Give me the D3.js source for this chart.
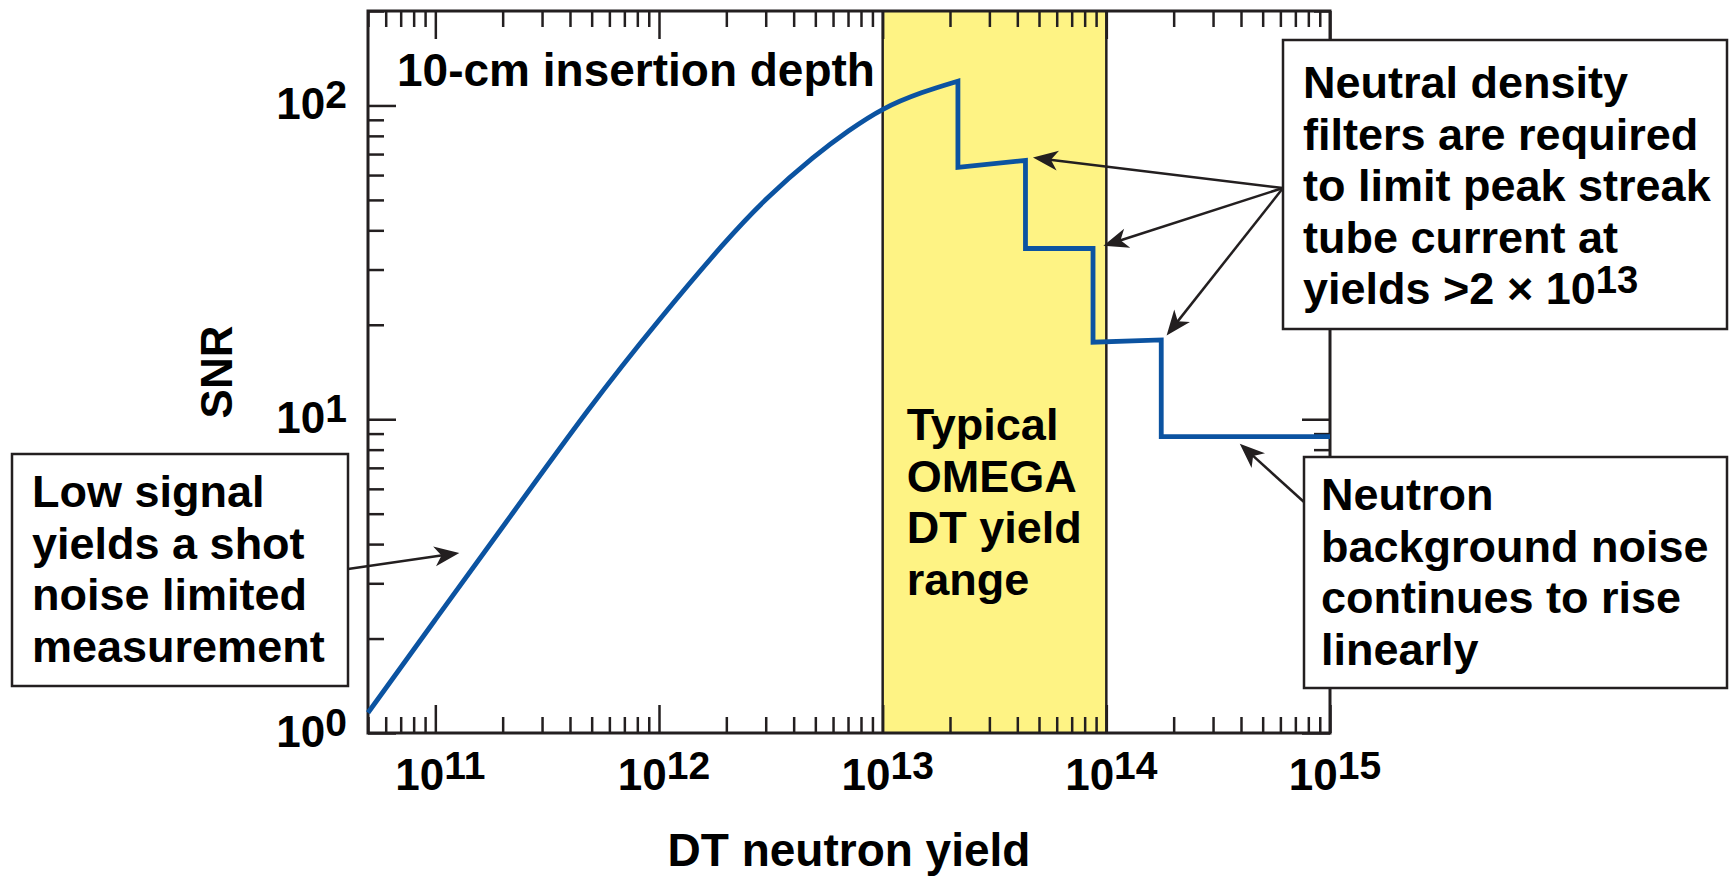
<!DOCTYPE html>
<html>
<head>
<meta charset="utf-8">
<script src="https://cdn.jsdelivr.net/npm/d3@7"></script>
<style>
    body { margin: 0; background: #fff; }
    text {
        font-family: "Liberation Sans", Arial, Helvetica, sans-serif;
        font-weight: bold;
        fill: #000;
    }
</style>
</head>
<body>
<div id="snr-chart"></div>
<script>
// smooth part of the SNR curve
const curveYield = [5e10, 1e11, 2e11, 5e11, 1e12, 2e12, 3e12, 5e12, 7e12, 1e13, 1.5e13, 2.17e13];
const curveSnr   = [1.16, 2.30, 4.53, 11.2, 20.8, 37.3, 50.6, 69.5, 83.0, 98.2, 110.4, 119.5];

// stepped part, once neutral density filters are added
const stepYield = [2.17e13, 2.17e13, 4.35e13, 4.35e13, 8.72e13, 8.72e13, 1.76e14, 1.76e14, 1e15];
const stepSnr   = [119.5, 63.5, 66.8, 35, 35, 17.6, 17.9, 8.8, 8.8];

// typical OMEGA yield range
const bandYield = [1e13, 1e14];

const xLabelValues = [1e11, 1e12, 1e13, 1e14, 1e15];
const xLabelExp    = ["11", "12", "13", "14", "15"];
const yLabelValues = [1, 10, 100];
const yLabelExp    = ["0", "1", "2"];

// annotation texts, "^" starts a superscript
const filterNote = ["Neutral density", "filters are required", "to limit peak streak", "tube current at", "yields >2 \u00d7 10^13"];
const neutronNote = ["Neutron", "background noise", "continues to rise", "linearly"];
const shotNote = ["Low signal", "yields a shot", "noise limited", "measurement"];
const bandNote = ["Typical", "OMEGA", "DT yield", "range"];

// where the arrows point to (yield, SNR)
const arrowTipYield = [4.7e13, 9.7e13, 1.86e14, 3.95e14, 1.28e11];
const arrowTipSnr   = [68.2, 35.7, 18.5, 8.35, 3.75];

const drawChart = () => {

    const width = 1730;
    const height = 877;

    const margin = {
        top: 11,
        right: 400,
        bottom: 144,
        left: 368
    };

    const innerWidth  = width - (margin.right + margin.left);
    const innerHeight = height - (margin.top + margin.bottom);

    const axisColor = "#231f20";
    const lineBlue = "#0b53a1";
    const bandYellow = "#fef384";

    const svg = d3.select("#snr-chart")
        .append("svg")
        .attr("width", width)
        .attr("height", height)
        .attr("viewBox", `0, 0, ${width}, ${height}`);

    svg.append("rect")
        .attr("width", width)
        .attr("height", height)
        .attr("fill", "#fff");

    const innerChart = svg
        .append("g")
        .attr("transform", `translate(${margin.left}, ${margin.top})`);

    const xScale = d3.scaleLog()
        .domain([5e10, 1e15])
        .range([0, innerWidth]);

    const yScale = d3.scaleLog()
        .domain([1, 200])
        .range([innerHeight, 0]);

    //yellow band
    innerChart
        .append("rect")
        .attr("x", xScale(bandYield[0]))
        .attr("y", 0)
        .attr("width", xScale(bandYield[1]) - xScale(bandYield[0]))
        .attr("height", innerHeight)
        .attr("fill", bandYellow);

    innerChart
        .selectAll(".band-edge")
        .data(bandYield)
        .join("line")
            .attr("class", "band-edge")
            .attr("x1", d => xScale(d))
            .attr("x2", d => xScale(d))
            .attr("y1", 0)
            .attr("y2", innerHeight)
            .attr("stroke", axisColor)
            .attr("stroke-width", 2.5);

    //ticks on all four sides, pointing inwards
    const xMinor = xScale.ticks().filter(d => !xLabelValues.includes(d));
    const yMinor = yScale.ticks().filter(d => !yLabelValues.includes(d));

    const addTicks = (axis, values, size, transform) => {
        innerChart
            .append("g")
            .attr("transform", transform)
            .call(axis.tickValues(values).tickSize(-size).tickFormat(""))
            .call(g => g.select(".domain").remove())
            .call(g => g.selectAll("line")
                .attr("stroke", axisColor)
                .attr("stroke-width", 2.5));
    };

    addTicks(d3.axisBottom(xScale), xLabelValues, 28, `translate(0, ${innerHeight})`);
    addTicks(d3.axisBottom(xScale), xMinor, 16, `translate(0, ${innerHeight})`);
    addTicks(d3.axisTop(xScale), xLabelValues, 28, "translate(0, 0)");
    addTicks(d3.axisTop(xScale), xMinor, 16, "translate(0, 0)");
    addTicks(d3.axisLeft(yScale), yLabelValues, 28, "translate(0, 0)");
    addTicks(d3.axisLeft(yScale), yMinor, 16, "translate(0, 0)");
    addTicks(d3.axisRight(yScale), yLabelValues, 28, `translate(${innerWidth}, 0)`);
    addTicks(d3.axisRight(yScale), yMinor, 16, `translate(${innerWidth}, 0)`);

    innerChart
        .append("rect")
        .attr("width", innerWidth)
        .attr("height", innerHeight)
        .attr("fill", "none")
        .attr("stroke", axisColor)
        .attr("stroke-width", 3);

    //tick labels as 10 with a superscript exponent
    const powerLabel = (sel, exps, supSize) => {
        sel.text("10")
            .append("tspan")
            .attr("dy", -11)
            .attr("font-size", supSize)
            .text((d, i) => exps[i]);
    };

    innerChart
        .selectAll(".x-label")
        .data(xLabelValues)
        .join("text")
            .attr("class", "x-label")
            .attr("x", d => xScale(d) + 5)
            .attr("y", innerHeight + 57)
            .attr("text-anchor", "middle")
            .attr("font-size", 44)
            .call(powerLabel, xLabelExp, 39);

    innerChart
        .selectAll(".y-label")
        .data(yLabelValues)
        .join("text")
            .attr("class", "y-label")
            .attr("x", -21)
            .attr("y", d => yScale(d) + 13.5)
            .attr("text-anchor", "end")
            .attr("font-size", 44)
            .call(powerLabel, yLabelExp, 39);

    //axis titles
    svg
        .append("text")
        .text("DT neutron yield")
        .attr("x", margin.left + innerWidth / 2)
        .attr("y", 866)
        .attr("text-anchor", "middle")
        .attr("font-size", 46);

    svg
        .append("text")
        .text("SNR")
        .attr("transform", `translate(232, ${margin.top + innerHeight / 2}) rotate(-90)`)
        .attr("text-anchor", "middle")
        .attr("font-size", 44);

    //SNR curve
    const curveData = curveYield.map((d, i) => ({ yield: d, snr: curveSnr[i] }));
    const stepData  = stepYield.map((d, i) => ({ yield: d, snr: stepSnr[i] }));

    const smoothGenerator = d3.line()
        .x(d => xScale(d.yield))
        .y(d => yScale(d.snr))
        .curve(d3.curveBasis);

    const stepGenerator = d3.line()
        .x(d => xScale(d.yield))
        .y(d => yScale(d.snr));

    innerChart
        .append("path")
        .attr("d", smoothGenerator(curveData) + stepGenerator(stepData).replace(/^M/, "L"))
        .attr("fill", "none")
        .attr("stroke", lineBlue)
        .attr("stroke-width", 4.8)
        .attr("stroke-linejoin", "miter");

    //multi-line text helper
    const addLines = (parent, lines, x, y, size) => {
        const text = parent
            .append("text")
            .attr("font-size", size);
        lines.forEach((line, i) => {
            const parts = line.split("^");
            text.append("tspan")
                .attr("x", x)
                .attr("y", y + i * 51.5)
                .text(parts[0]);
            if (parts[1]) {
                text.append("tspan")
                    .attr("dy", -11)
                    .attr("font-size", size * 0.85)
                    .text(parts[1]);
            }
        });
    };

    innerChart
        .append("text")
        .text("10-cm insertion depth")
        .attr("x", 29)
        .attr("y", 75)
        .attr("font-size", 46);

    addLines(innerChart, bandNote, xScale(bandYield[0]) + 24, 429, 45);

    //annotation boxes
    const boxes = [
        { x: 1283, y: 40, w: 444, h: 289, dx: 20, dy: 58, lines: filterNote },
        { x: 1304, y: 457, w: 423, h: 231, dx: 17, dy: 53, lines: neutronNote },
        { x: 12, y: 454, w: 336, h: 232, dx: 20, dy: 53, lines: shotNote }
    ];

    boxes.forEach(b => {
        svg.append("rect")
            .attr("x", b.x)
            .attr("y", b.y)
            .attr("width", b.w)
            .attr("height", b.h)
            .attr("fill", "#fff")
            .attr("stroke", axisColor)
            .attr("stroke-width", 2.5);
        addLines(svg, b.lines, b.x + b.dx, b.y + b.dy, 45);
    });

    //arrows from the boxes to the curve
    const arrowStarts = [
        [1283, 188], [1283, 188], [1283, 188],
        [1304, 502],
        [348, 569]
    ];

    arrowStarts.forEach((start, i) => {
        const tipX = margin.left + xScale(arrowTipYield[i]);
        const tipY = margin.top + yScale(arrowTipSnr[i]);
        const angle = Math.atan2(tipY - start[1], tipX - start[0]);
        const endX = tipX - 15 * Math.cos(angle);
        const endY = tipY - 15 * Math.sin(angle);

        svg.append("line")
            .attr("x1", start[0])
            .attr("y1", start[1])
            .attr("x2", endX)
            .attr("y2", endY)
            .attr("stroke", axisColor)
            .attr("stroke-width", 2.5);

        svg.append("path")
            .attr("d", "M0,0 L-25,-10 L-18,0 L-25,10 Z")
            .attr("transform", `translate(${tipX}, ${tipY}) rotate(${angle * 180 / Math.PI})`)
            .attr("fill", axisColor);
    });
}

drawChart();
</script>
</body>
</html>
